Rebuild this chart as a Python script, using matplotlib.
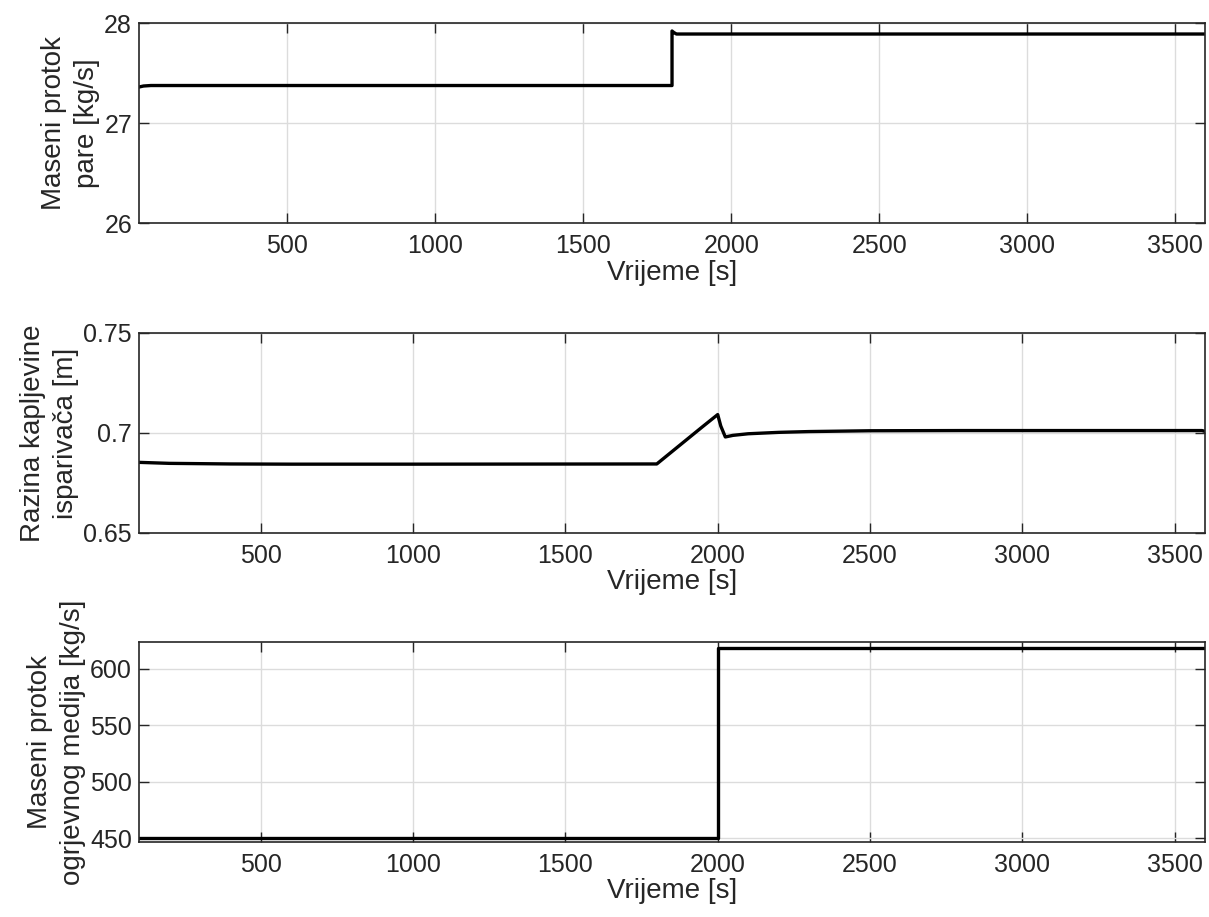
import matplotlib
matplotlib.use("Agg")
import matplotlib.pyplot as plt

plt.rcParams['font.family'] = ['Liberation Sans', 'DejaVu Sans']

# top: steam mass flow
t_steam = [0, 15, 40, 1800, 1800, 1806, 1815, 3600]
steam = [27.36, 27.37, 27.375, 27.375, 27.92, 27.905, 27.89, 27.89]

# middle: evaporator liquid level
t_level = [100, 200, 400, 600, 1000, 1800, 1850, 1900, 1950, 2000, 2010,
           2025, 2050, 2100, 2200, 2300, 2500, 2800, 3200, 3590, 3600]
level = [0.6853, 0.6848, 0.6845, 0.6844, 0.6844, 0.6845, 0.6907, 0.6969,
         0.7031, 0.7092, 0.7035, 0.6980, 0.6988, 0.6996, 0.7003, 0.7007,
         0.7011, 0.7012, 0.7012, 0.7012, 0.7008]

# bottom: heating medium mass flow
t_heat = [100, 2000, 2000, 3600]
heat = [450, 450, 618, 618]

xlabel = 'Vrijeme [s]'
dark = '#262626'

fig = plt.figure(figsize=(12.09, 9.17), dpi=100)
ax1 = fig.add_axes([0.115, 0.7568, 0.8817, 0.2181])
ax2 = fig.add_axes([0.115, 0.4188, 0.8817, 0.2181])
ax3 = fig.add_axes([0.115, 0.0818, 0.8817, 0.2181])

ax1.plot(t_steam, steam, 'k-', lw=2.4)
ax1.set_xlim(0, 3600)
ax1.set_ylim(26, 28)
ax1.set_yticks([26, 27, 28])
ax1.set_ylabel('Maseni protok\npare [kg/s]')

ax2.plot(t_level, level, 'k-', lw=2.4)
ax2.set_xlim(100, 3600)
ax2.set_ylim(0.65, 0.75)
ax2.set_yticks([0.65, 0.7, 0.75])
ax2.set_yticklabels(['0.65', '0.7', '0.75'])
ax2.set_ylabel('Razina kapljevine\nisparivača [m]')

ax3.plot(t_heat, heat, 'k-', lw=2.4)
ax3.set_xlim(100, 3600)
ax3.set_ylim(446.5, 623.5)
ax3.set_yticks([450, 500, 550, 600])
ax3.set_ylabel('Maseni protok\nogrjevnog medija [kg/s]')

for ax in (ax1, ax2, ax3):
    ax.set_xticks([500, 1000, 1500, 2000, 2500, 3000, 3500])
    ax.set_xlabel(xlabel, fontsize=20, color=dark, labelpad=1)
    ax.yaxis.label.set_size(20)
    ax.yaxis.label.set_color(dark)
    ax.yaxis.label.set_linespacing(1.35)
    ax.yaxis.labelpad = 3
    ax.grid(True, color='#dcdcdc', lw=1)
    ax.set_axisbelow(True)
    ax.tick_params(direction='in', top=True, right=True, length=7.5,
                   width=1, colors=dark, labelsize=18)
    ax.tick_params(axis='x', pad=8)
    ax.tick_params(axis='y', pad=5)
    for s in ax.spines.values():
        s.set_color(dark)
        s.set_linewidth(1.2)

fig.savefig('out.png', dpi=100)
